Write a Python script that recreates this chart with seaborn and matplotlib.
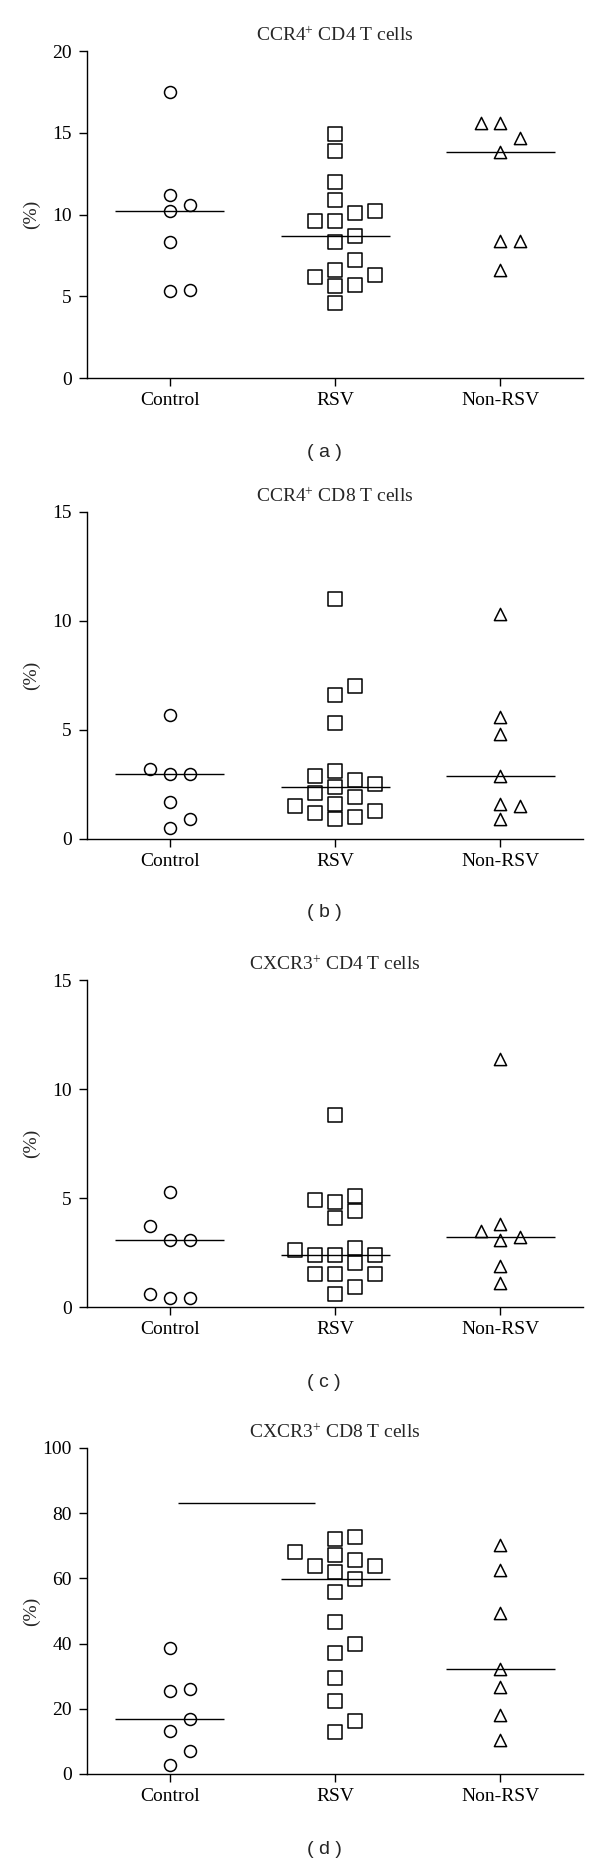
import numpy as np
import pandas as pd
import matplotlib
matplotlib.use("Agg")
import matplotlib.pyplot as plt
import seaborn as sns

groups = ["Control", "RSV", "Non-RSV"]

# (a) CCR4+ CD4 T cells
ccr4_cd4_control = [17.5, 11.2, 10.2, 10.6, 8.3, 5.3, 5.4]
ccr4_cd4_rsv = [14.9, 13.9, 12.0, 10.9, 10.2, 10.1, 9.6, 9.6, 8.7,
                8.3, 7.2, 6.3, 6.2, 6.6, 5.7, 5.6, 4.6]
ccr4_cd4_nonrsv = [15.6, 15.6, 14.7, 13.8, 8.4, 8.4, 6.6]

# (b) CCR4+ CD8 T cells
ccr4_cd8_control = [5.7, 3.2, 3.0, 3.0, 1.7, 0.9, 0.5]
ccr4_cd8_rsv = [11.0, 7.0, 6.6, 5.3, 3.1, 2.9, 2.7, 2.5, 2.4,
                2.1, 1.9, 1.5, 1.6, 1.2, 1.3, 1.0, 0.9]
ccr4_cd8_nonrsv = [10.3, 5.6, 4.8, 2.9, 1.6, 1.5, 0.9]

# (c) CXCR3+ CD4 T cells
cxcr3_cd4_control = [5.3, 3.7, 3.1, 3.1, 0.6, 0.4, 0.4]
cxcr3_cd4_rsv = [8.8, 5.1, 4.9, 4.8, 4.4, 4.1, 2.7, 2.6, 2.4,
                 2.4, 2.4, 2.0, 1.5, 1.5, 1.5, 0.9, 0.6]
cxcr3_cd4_nonrsv = [11.4, 3.8, 3.5, 3.2, 3.1, 1.9, 1.1]

# (d) CXCR3+ CD8 T cells
cxcr3_cd8_control = [38.6, 25.3, 26.1, 16.8, 13.1, 7.1, 2.7]
cxcr3_cd8_rsv = [72.0, 72.6, 68.2, 67.3, 65.6, 63.9, 63.8, 62.0, 59.8,
                 55.7, 46.7, 39.8, 37.0, 29.4, 22.4, 16.3, 12.8]
cxcr3_cd8_nonrsv = [70.2, 62.6, 49.3, 32.3, 26.8, 18.0, 10.3]
cxcr3_cd8_bar = 83  # bracket line above Control / RSV

panels = [
    ("CCR4$^{+}$ CD4 T cells", "( a )", 20, 5,
     [ccr4_cd4_control, ccr4_cd4_rsv, ccr4_cd4_nonrsv]),
    ("CCR4$^{+}$ CD8 T cells", "( b )", 15, 5,
     [ccr4_cd8_control, ccr4_cd8_rsv, ccr4_cd8_nonrsv]),
    ("CXCR3$^{+}$ CD4 T cells", "( c )", 15, 5,
     [cxcr3_cd4_control, cxcr3_cd4_rsv, cxcr3_cd4_nonrsv]),
    ("CXCR3$^{+}$ CD8 T cells", "( d )", 100, 20,
     [cxcr3_cd8_control, cxcr3_cd8_rsv, cxcr3_cd8_nonrsv]),
]

markers = ["o", "s", "^"]
marker_sizes = [8.6, 9.6, 8.8]

AX_H_PX = 327      # axes height in pixels
COL_STEP = 0.12    # horizontal step between dot columns (category units)
GAP_PX = 15        # min vertical distance between dots in one column


def column_offsets(values, top):
    """Spread dots into side columns (0, +1, -1, +2, ...) like a column scatter."""
    thresh = GAP_PX * top / AX_H_PX
    cols = np.zeros(len(values))
    placed = []
    for idx in np.argsort(values, kind="stable"):
        v = values[idx]
        for c in [0, 1, -1, 2, -2, 3, -3]:
            if all(abs(v - pv) >= thresh for pv, pc in placed if pc == c):
                break
        placed.append((v, c))
        cols[idx] = c
    return cols


sns.set_style("ticks")
plt.rcParams["font.family"] = ["Liberation Serif", "DejaVu Serif"]
plt.rcParams["mathtext.fontset"] = "custom"
plt.rcParams["mathtext.rm"] = "Liberation Serif"
plt.rcParams["mathtext.it"] = "Liberation Serif:italic"
plt.rcParams["axes.linewidth"] = 1.0
plt.rcParams["axes.edgecolor"] = "black"
plt.rcParams["xtick.color"] = "black"
plt.rcParams["ytick.color"] = "black"

fig = plt.figure(figsize=(6, 18.63), dpi=100)

# axes boxes (figure fraction), top to bottom
boxes = [
    [0.145, 0.7971, 0.827, 0.1755],
    [0.145, 0.5497, 0.827, 0.1755],
    [0.145, 0.2984, 0.827, 0.1755],
    [0.145, 0.0478, 0.827, 0.1750],
]
tag_y = [0.7570, 0.5102, 0.2580, 0.0072]

for box, ty, (title, tag, top, step, series) in zip(boxes, tag_y, panels):
    ax = fig.add_axes(box)

    for i, (g, vals, m, sz) in enumerate(zip(groups, series, markers, marker_sizes)):
        vals = np.asarray(vals)
        df = pd.DataFrame({
            "pos": i + column_offsets(vals, top) * COL_STEP,
            "value": vals,
        })
        sns.scatterplot(data=df, x="pos", y="value", marker=m, s=sz ** 2,
                        color="white", edgecolor="black", linewidth=1.1,
                        ax=ax, zorder=3, clip_on=False)
        # median line
        ax.hlines(np.median(vals), i - 0.33, i + 0.33, color="black",
                  lw=1.0, zorder=4)

    if top == 100:
        ax.hlines(cxcr3_cd8_bar, 0.05, 0.88, color="black", lw=1.0)

    ax.set_xlim(-0.5, 2.5)
    ax.set_xticks(range(len(groups)), groups)
    ax.set_ylim(0, top)
    ax.set_yticks(np.arange(0, top + 1, step))
    ax.set_xlabel("")
    ax.set_ylabel("(%)", fontsize=14)
    ax.yaxis.set_label_coords(-0.095, 0.5)
    ax.set_title(title, fontsize=14, pad=7)
    ax.tick_params(axis="both", labelsize=14, length=6, width=1.0)
    ax.tick_params(axis="x", pad=4)
    ax.tick_params(axis="y", pad=5)
    sns.despine(ax=ax)

    fig.text(0.54, ty, tag, ha="center", va="center", fontsize=14,
             family=["Liberation Sans", "DejaVu Sans"])

fig.savefig("out.png", dpi=100)
